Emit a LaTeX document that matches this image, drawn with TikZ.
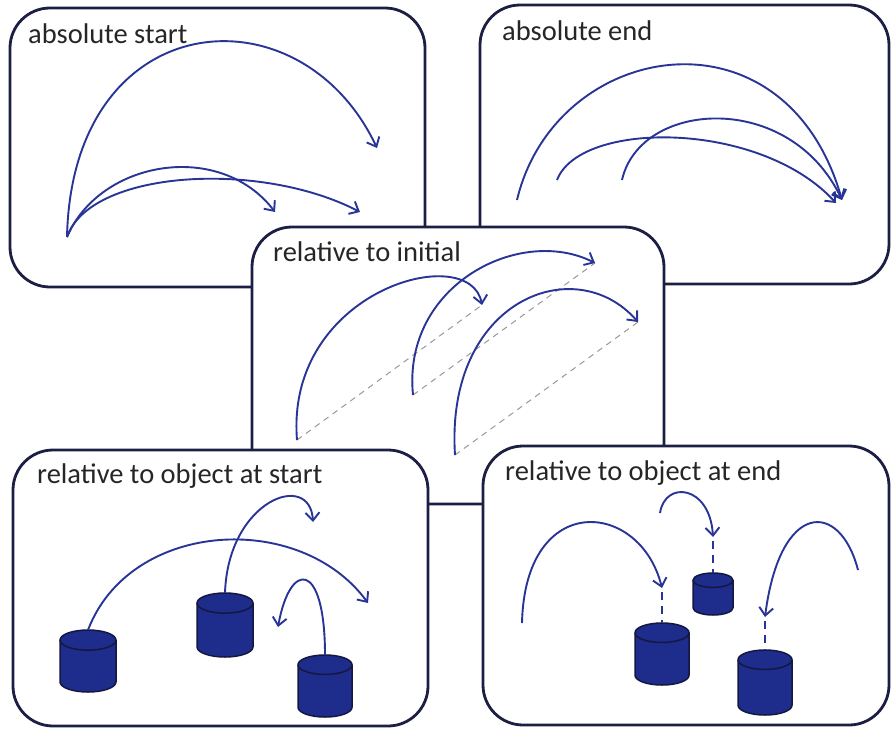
\documentclass[tikz,border=0pt]{standalone}
\usepackage{fontspec}
\setmainfont{Carlito}
\usetikzlibrary{arrows.meta}
\definecolor{framecol}{RGB}{28,30,68}
\definecolor{arcblue}{RGB}{40,52,150}
\definecolor{drumblue}{RGB}{30,44,140}
\definecolor{drumline}{RGB}{20,24,64}
\tikzset{
    panel/.style={draw=framecol,line width=2.8pt,fill=white,rounded corners=40pt},
    title/.style={anchor=base west,inner sep=0pt,text=black!85,font=\fontsize{28.5}{34}\selectfont},
    move/.style={arcblue,line width=1.9pt,->},
    trace/.style={gray!80,line width=1pt,dash pattern=on 6pt off 5pt},
    drop/.style={arcblue,line width=2.2pt,dash pattern=on 8pt off 6pt},
    drumbody/.style={draw=drumline,fill=drumblue,line width=1.5pt,line join=round}
}
% #1 name of the top point, #2 centre x, #3 top y, #4 half width, #5 height
\newcommand{\drum}[5]{
    \coordinate (#1) at (#2,#3);
    \filldraw[drumbody] (#2-#4,#3+0.36*#4) -- (#2-#4,#3+#5-0.36*#4)
        arc (180:0:#4 and 0.36*#4) -- (#2+#4,#3+0.36*#4)
        arc (0:-180:#4 and 0.36*#4) -- cycle;
    \draw[drumbody,fill=none] (#2-#4,#3+0.36*#4) arc (180:0:#4 and 0.36*#4);
}

\begin{document}
\begin{tikzpicture}[x=1pt,y=-1pt,>={Straight Barb[length=8pt,width=14pt]}]
            \useasboundingbox (0,0) rectangle (891,728);
            % absolute start
            \draw[panel] (10,8) rectangle (425,287);
            \node[title] (absstart) at (28,43) {absolute start};
            \coordinate (s0) at (67,237);
            \draw[move] (s0) .. controls (72,5) and (300,-15) .. (377,148);
            \draw[move] (s0) .. controls (100,160) and (220,140) .. (275,212);
            \draw[move] (s0) .. controls (90,170) and (260,160) .. (360,212);
            % absolute end
            \draw[panel] (480,5) rectangle (889,284);
            \node[title] (absend) at (502,40) {absolute end};
            \coordinate (e0) at (842,200);
            \draw[move] (517,200) .. controls (555,40) and (785,0) .. (e0);
            \draw[move] (557,180) .. controls (580,120) and (760,120) .. (836,203);
            \draw[move] (622,180) .. controls (640,100) and (790,90) .. (e0);
            % relative to initial
            \draw[panel] (252,227) rectangle (664,504);
            \node[title] (relinit) at (273,261) {relative to initial};
            \foreach \a/\b/\ca/\cb in {297/440/482/305,413/395/595/263,455/455/638/322}
                \draw[trace] (\a,\b) -- (\ca,\cb);
            \draw[move] (297,440) .. controls (285,290) and (470,240) .. (482,305);
            \draw[move] (413,395) .. controls (402,285) and (520,225) .. (595,263);
            \draw[move] (455,455) .. controls (445,300) and (575,250) .. (638,322);
            % relative to object at start
            \draw[panel] (13,450) rectangle (428,726);
            \node[title] (objstart) at (37,483) {relative to object at start};
            \drum{d1}{88}{630}{28}{62}
            \drum{d2}{225}{593}{28}{64}
            \drum{d3}{325}{655}{27}{62}
            \draw[move] (d1) .. controls (130,520) and (300,510) .. (368,603);
            \draw[move] (d2) .. controls (228,500) and (310,470) .. (313,522);
            \draw[move] (d3) .. controls (325,560) and (290,560) .. (278,627);
            % relative to object at end
            \draw[panel] (483,446) rectangle (889,725);
            \node[title] (objend) at (505,480) {relative to object at end};
            \drum{d4}{662}{623}{27}{62}
            \drum{d5}{713}{573}{20}{42}
            \drum{d6}{765}{650}{27}{65}
            \coordinate (t4) at (662,588);
            \coordinate (t5) at (713,537);
            \coordinate (t6) at (765,617);
            \foreach \t/\d in {t4/d4,t5/d5,t6/d6}
                \draw[drop] (\t) ++(0,4) -- (\d);
            \draw[move] (522,623) .. controls (525,490) and (640,500) .. (t4);
            \draw[move] (660,513) .. controls (665,480) and (710,485) .. (t5);
            \draw[move] (858,570) .. controls (840,500) and (780,500) .. (t6);
        \end{tikzpicture}
\end{document}
